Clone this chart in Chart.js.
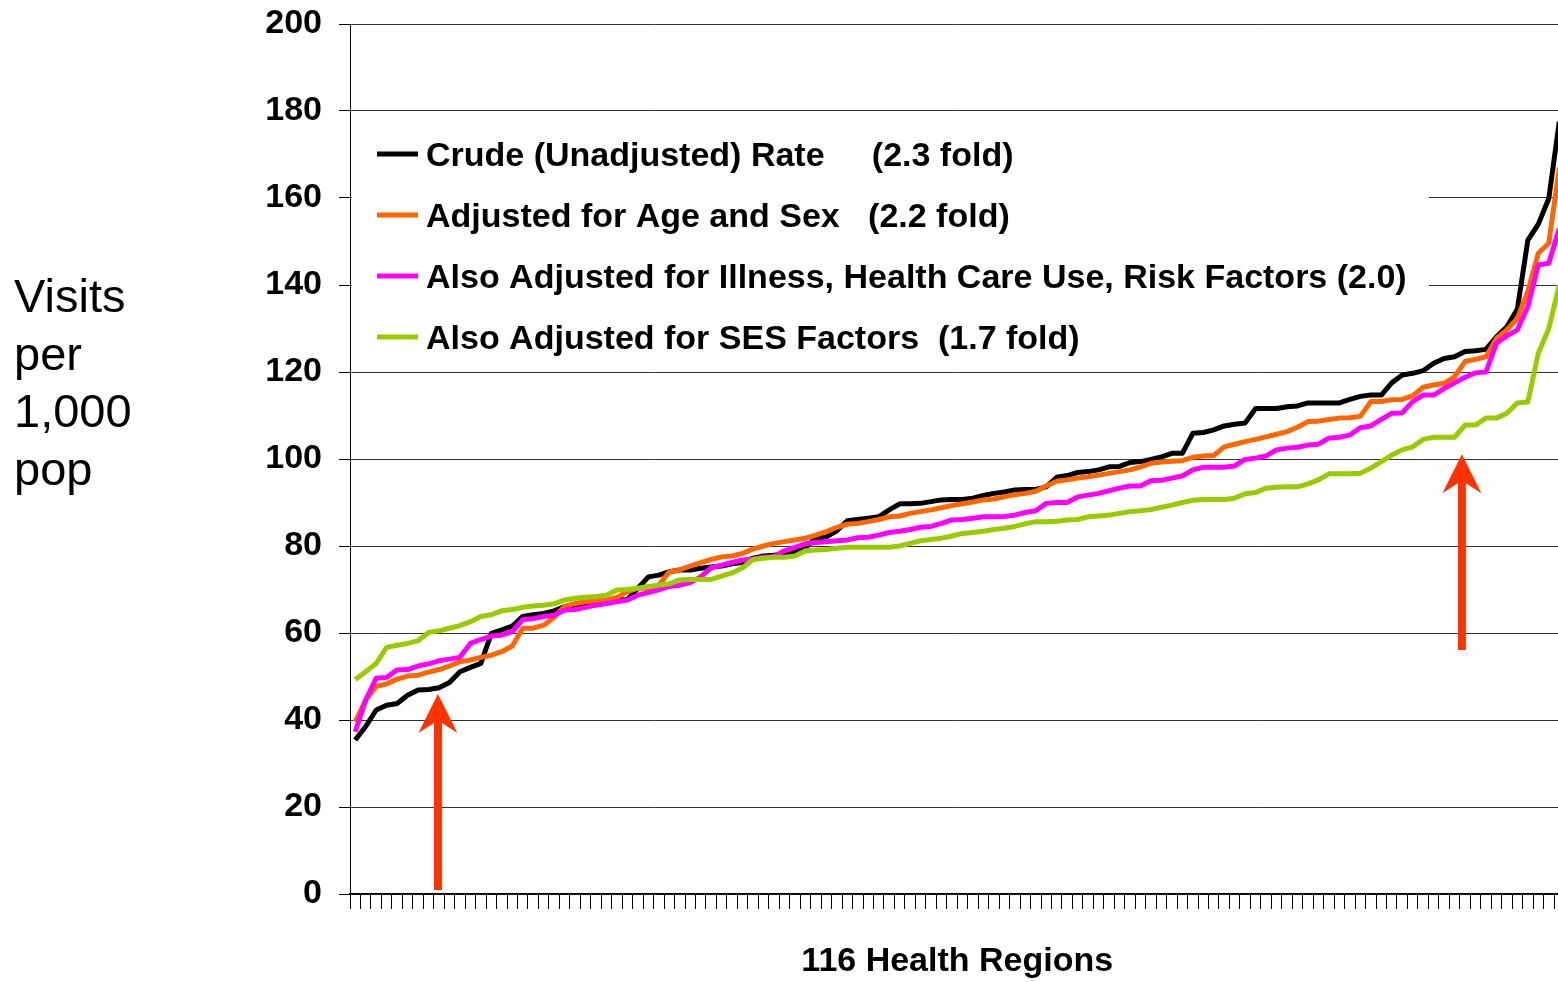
<!DOCTYPE html>
<html>
<head>
<meta charset="utf-8">
<script src="https://cdn.jsdelivr.net/npm/chart.js@4.4.1/dist/chart.umd.min.js"></script>
<style>
  html, body { margin: 0; padding: 0; background: #fff; overflow: hidden; }
  #wrap { position: relative; width: 1566px; height: 982px; }
</style>
</head>
<body>
<div id="wrap"><canvas id="chart" width="1566" height="982"></canvas></div>
<script>
const regions = [];
for (let j = 1; j <= 116; j++) {
  regions.push("Region " + j);
}

const crude = [
  35.4, 38.5, 42.3, 43.4, 43.8, 45.7, 46.9, 47.0, 47.4, 48.6,
  51.1, 52.1, 53.0, 59.9, 60.7, 61.6, 63.8, 64.2, 64.5, 65.1,
  66.1, 66.4, 66.8, 66.8, 67.2, 67.6, 67.7, 70.3, 72.9, 73.3,
  74.1, 74.5, 74.5, 74.9, 75.2, 75.4, 75.9, 76.2, 77.2, 77.7,
  77.9, 78.2, 78.7, 79.7, 81.8, 82.1, 83.5, 85.8, 86.1, 86.4,
  86.7, 88.3, 89.7, 89.7, 89.8, 90.2, 90.6, 90.7, 90.7, 91.0,
  91.6, 92.1, 92.4, 92.9, 93.0, 93.0, 93.6, 95.8, 96.2, 96.9,
  97.1, 97.5, 98.2, 98.3, 99.2, 99.4, 99.9, 100.5, 101.3, 101.3,
  105.9, 106.1, 106.7, 107.6, 108.0, 108.3, 111.6, 111.6, 111.6, 112.0,
  112.2, 112.9, 112.9, 112.9, 112.9, 113.7, 114.4, 114.7, 114.7, 117.5,
  119.3, 119.7, 120.3, 122.0, 123.1, 123.5, 124.7, 124.9, 125.2, 128.1,
  130.4, 134.5, 150.3, 154.0, 159.9, 177.5
];
const ageSex = [
  39.6, 44.6, 47.7, 48.3, 49.4, 50.1, 50.3, 51.0, 51.6, 52.4,
  53.4, 53.8, 54.4, 54.9, 55.7, 57.0, 61.1, 61.1, 61.8, 63.6,
  66.1, 66.8, 67.2, 67.4, 67.6, 68.2, 69.5, 70.3, 70.3, 71.0,
  74.1, 74.5, 75.4, 76.2, 76.9, 77.5, 77.7, 78.3, 79.3, 80.0,
  80.6, 81.0, 81.4, 81.8, 82.5, 83.3, 84.3, 85.0, 85.2, 85.6,
  86.1, 86.7, 86.9, 87.5, 87.9, 88.3, 88.8, 89.3, 89.7, 90.1,
  90.6, 90.8, 91.3, 91.8, 92.1, 92.6, 93.8, 94.9, 95.2, 95.6,
  95.9, 96.3, 96.7, 97.1, 97.5, 98.2, 99.0, 99.3, 99.5, 99.6,
  100.4, 100.7, 100.8, 102.8, 103.4, 104.0, 104.5, 105.1, 105.7, 106.3,
  107.3, 108.6, 108.7, 109.1, 109.4, 109.5, 109.8, 113.2, 113.2, 113.6,
  113.7, 114.5, 116.5, 117.0, 117.4, 118.9, 122.4, 122.9, 123.5, 127.7,
  129.7, 132.3, 138.5, 147.3, 149.6, 167.0
];
const illness = [
  37.3, 44.6, 49.6, 49.8, 51.5, 51.6, 52.4, 52.9, 53.6, 54.0,
  54.4, 57.6, 58.5, 59.3, 59.5, 60.3, 63.1, 63.3, 63.8, 64.1,
  65.3, 65.4, 65.9, 66.4, 66.8, 67.2, 67.6, 68.7, 69.3, 69.9,
  70.7, 71.0, 71.6, 72.9, 75.0, 75.6, 76.2, 76.8, 77.0, 77.4,
  77.6, 78.9, 79.7, 80.5, 80.8, 81.0, 81.2, 81.4, 81.9, 82.0,
  82.5, 83.1, 83.4, 83.8, 84.3, 84.5, 85.2, 86.0, 86.1, 86.4,
  86.7, 86.7, 86.8, 87.1, 87.7, 88.1, 89.8, 90.0, 90.0, 91.3,
  91.7, 92.1, 92.7, 93.3, 93.8, 93.8, 95.0, 95.1, 95.6, 96.1,
  97.5, 98.1, 98.1, 98.1, 98.4, 99.9, 100.2, 100.7, 102.1, 102.5,
  102.7, 103.2, 103.4, 104.8, 105.0, 105.5, 107.2, 107.6, 109.1, 110.5,
  110.6, 113.2, 114.7, 114.7, 116.2, 117.5, 118.8, 119.8, 120.0, 126.6,
  128.3, 129.7, 135.0, 144.6, 145.0, 153.0
];
const ses = [
  49.3, 51.1, 53.0, 56.7, 57.2, 57.6, 58.2, 60.1, 60.5, 61.1,
  61.7, 62.6, 63.8, 64.2, 65.1, 65.4, 65.9, 66.2, 66.4, 66.7,
  67.6, 68.0, 68.2, 68.4, 68.7, 69.9, 70.0, 70.3, 70.7, 71.0,
  71.3, 72.2, 72.3, 72.3, 72.3, 73.1, 73.8, 75.0, 76.9, 77.2,
  77.4, 77.4, 77.7, 78.9, 79.1, 79.2, 79.5, 79.7, 79.7, 79.7,
  79.7, 79.7, 80.0, 80.6, 81.2, 81.5, 81.8, 82.3, 82.9, 83.1,
  83.4, 83.8, 84.1, 84.5, 85.1, 85.6, 85.6, 85.7, 86.0, 86.1,
  86.7, 86.9, 87.1, 87.5, 87.9, 88.1, 88.4, 88.9, 89.4, 90.0,
  90.5, 90.7, 90.7, 90.7, 91.0, 92.0, 92.3, 93.3, 93.5, 93.6,
  93.6, 94.3, 95.2, 96.6, 96.6, 96.6, 96.7, 97.9, 99.4, 100.9,
  102.1, 102.8, 104.5, 105.0, 105.0, 105.0, 107.8, 107.8, 109.4, 109.4,
  110.5, 112.9, 113.1, 124.3, 130.0, 140.0
];

const seriesLabels = [
  "Crude (Unadjusted) Rate     (2.3 fold)",
  "Adjusted for Age and Sex   (2.2 fold)",
  "Also Adjusted for Illness, Health Care Use, Risk Factors (2.0)",
  "Also Adjusted for SES Factors  (1.7 fold)"
];
const seriesColors = ["#000000", "#FF6600", "#FF00FF", "#99CC00"];
const yTitleLines = ["Visits", "per", "1,000", "pop"];
const xTitle = "116 Health Regions";

// arrows: category position, tail value, tip value
const arrowAt = [7.9, 105.7];
const arrowFrom = [0.9, 56.1];
const arrowTo = [46.0, 101.1];

const fontFamily = '"Liberation Sans", Arial, sans-serif';

// white box with the legend, drawn over the gridlines
const legendBox = {
  id: "legendBox",
  beforeDatasetsDraw(chart) {
    const ctx = chart.ctx;
    const area = chart.chartArea;
    ctx.save();
    ctx.fillStyle = "#fff";
    ctx.fillRect(area.left + 2, 125, 1429 - area.left - 2, 235);
    ctx.font = "bold 34px " + fontFamily;
    ctx.textBaseline = "alphabetic";
    chart.data.datasets.forEach((ds, k) => {
      const y = 154 + k * 61;
      ctx.strokeStyle = ds.borderColor;
      ctx.lineWidth = 5;
      ctx.beginPath();
      ctx.moveTo(377, y);
      ctx.lineTo(418, y);
      ctx.stroke();
      ctx.fillStyle = "#000";
      ctx.fillText(ds.label, 426, y + 12);
    });
    ctx.restore();
  }
};

const arrows = {
  id: "arrows",
  afterDatasetsDraw(chart) {
    const { ctx } = chart;
    const x = chart.scales.x;
    const y = chart.scales.y;
    ctx.save();
    ctx.fillStyle = "#FF3300";
    arrowAt.forEach((pos, k) => {
      const px = x.getPixelForValue(pos);
      const tail = y.getPixelForValue(arrowFrom[k]);
      const tip = y.getPixelForValue(arrowTo[k]);
      ctx.beginPath();
      ctx.moveTo(px, tip);
      ctx.lineTo(px + 19.5, tip + 39);
      ctx.lineTo(px + 4, tip + 29);
      ctx.lineTo(px + 4, tail);
      ctx.lineTo(px - 4, tail);
      ctx.lineTo(px - 4, tip + 29);
      ctx.lineTo(px - 19.5, tip + 39);
      ctx.closePath();
      ctx.fill();
    });
    ctx.restore();
  }
};

const yTitle = {
  id: "yTitle",
  afterDraw(chart) {
    const ctx = chart.ctx;
    ctx.save();
    ctx.font = "47px " + fontFamily;
    ctx.fillStyle = "#000";
    ctx.textBaseline = "alphabetic";
    yTitleLines.forEach((t, k) => {
      ctx.fillText(t, 14, 312 + k * 57.5);
    });
    ctx.restore();
  }
};

const datasets = [crude, ageSex, illness, ses].map((values, k) => ({
  label: seriesLabels[k],
  data: values,
  borderColor: seriesColors[k],
  backgroundColor: seriesColors[k],
  order: 4 - k
}));

new Chart(document.getElementById("chart").getContext("2d"), {
  type: "line",
  data: { labels: regions, datasets },
  options: {
    responsive: false,
    animation: false,
    layout: { padding: { top: 24, right: 1.5, bottom: 0, left: 0 } },
    plugins: {
      legend: { display: false },
      tooltip: { enabled: false }
    },
    elements: {
      point: { radius: 0 },
      line: { tension: 0, borderWidth: 5, borderJoinStyle: "round", borderCapStyle: "butt" }
    },
    scales: {
      x: {
        offset: true,
        grid: { offset: true, drawOnChartArea: false, drawTicks: true, tickLength: 15, color: "#000" },
        border: { color: "#000", width: 1.5 },
        ticks: { display: false, autoSkip: false },
        title: {
          display: true,
          text: xTitle,
          color: "#000",
          font: { family: fontFamily, size: 34, weight: "bold" },
          padding: { top: 0, bottom: 0 }
        },
        afterFit(scale) { scale.height = 88; }
      },
      y: {
        min: 0,
        max: 200,
        ticks: {
          stepSize: 20,
          color: "#000",
          padding: 17,
          font: { family: fontFamily, size: 34, weight: "bold" }
        },
        grid: { color: "#333", lineWidth: 1, tickLength: 11, tickColor: "#000" },
        border: { color: "#000", width: 1 },
        afterFit(scale) {
          scale.width = 350;
          scale.paddingTop = 0;
          scale.paddingBottom = 0;
        }
      }
    }
  },
  plugins: [legendBox, arrows, yTitle]
});
</script>
</body>
</html>
